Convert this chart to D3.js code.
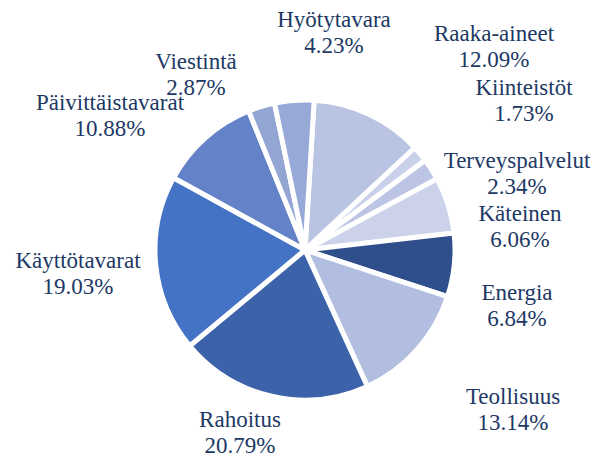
<!DOCTYPE html>
<html>
<head>
<meta charset="utf-8">
<script src="https://cdn.jsdelivr.net/npm/d3@7"></script>
<style>
  body { margin: 0; background: #fff; }
</style>
</head>
<body>
<div class="container"></div>
<script>
const wd = 604
const ht = 459

// data, clockwise from the top
const sectors = ["Raaka-aineet", "Kiinteistöt", "Terveyspalvelut", "Käteinen", "Energia",
  "Teollisuus", "Rahoitus", "Käyttötavarat", "Päivittäistavarat", "Viestintä", "Hyötytavara"]
const shares = [12.09, 1.73, 2.34, 6.06, 6.84, 13.14, 20.79, 19.03, 10.88, 2.87, 4.23]
const colors = ["#b9c4e2", "#c9d1ea", "#bcc6e4", "#cbd2e9", "#2e4f8c",
  "#b2bedf", "#3c63aa", "#4472c4", "#6482c8", "#93a5d3", "#97a9d6"]

// where each label sits, relative to pie centre (first line baseline)
const labelOffsets = [[189, -209], [219, -155], [212, -82], [215, -29], [212, 50],
  [208, 154], [-65, 177], [-227, 18], [-195, -140], [-109, -181], [29, -223]]

const cx = 305, cy = 250, radius = 150

const svgC = d3.select(".container")
.append("svg")
.attr("width", wd)
.attr("height", ht)

const pie = d3.pie()
.sort(null)
.value(d => d.value)
.startAngle(3.5 * Math.PI / 180)
.endAngle(3.5 * Math.PI / 180 + 2 * Math.PI)

const arc = d3.arc()
.innerRadius(0)
.outerRadius(radius)

const data = sectors.map((s, i) => ({ name: s, value: shares[i], color: colors[i], off: labelOffsets[i] }))

const g = svgC.append("g")
.attr("transform", "translate(" + cx + "," + cy + ")")

g.selectAll("path")
.data(pie(data))
.enter()
.append("path")
.attr("d", arc)
.attr("fill", d => d.data.color)
.attr("stroke", "#fff")
.attr("stroke-width", 5)
.attr("stroke-linejoin", "miter")

const labels = g.selectAll("text")
.data(data)
.enter()
.append("text")
.attr("text-anchor", "middle")
.attr("fill", "#203864")
.attr("font-family", "'Times New Roman', 'Liberation Serif', 'DejaVu Serif', serif")
.attr("font-size", 23)
.attr("transform", d => "translate(" + d.off[0] + "," + d.off[1] + ")")

labels.append("tspan")
.attr("x", 0)
.attr("y", 0)
.text(d => d.name)

labels.append("tspan")
.attr("x", 0)
.attr("y", 26)
.text(d => d.value.toFixed(2) + "%")
</script>
</body>
</html>
